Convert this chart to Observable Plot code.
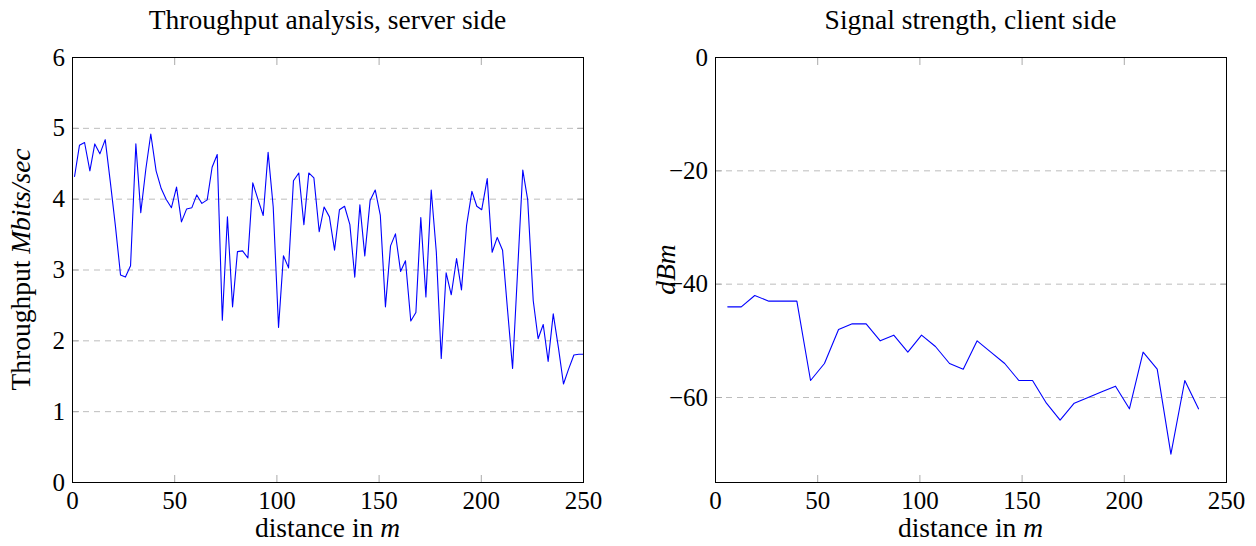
<!DOCTYPE html>
<html><head><meta charset="utf-8">
<script src="https://cdn.jsdelivr.net/npm/d3@7"></script>
<script src="https://cdn.jsdelivr.net/npm/@observablehq/plot@0.6"></script>
<style>
html,body{margin:0;padding:0;background:#fff;}
body{width:1256px;height:546px;overflow:hidden;position:relative;font-family:"Liberation Serif",serif;}
.panel{position:absolute;top:0;width:628px;height:546px;}
.title{height:41px;box-sizing:border-box;padding-top:4px;line-height:31px;font-size:27.5px;text-align:center;white-space:nowrap;color:#000;width:628px;position:relative;}
svg{display:block;}
</style></head><body>
<div id="left" class="panel" style="left:0"></div>
<div id="right" class="panel" style="left:628px"></div>
<script>
// Left chart: throughput vs distance
const throughputDistance = [1.0,3.4,5.9,8.5,10.9,13.4,16.0,18.6,21.0,23.5,
25.9,28.4,31.0,33.4,35.9,38.3,40.9,43.4,45.8,48.4,
50.9,53.3,55.8,58.4,60.8,63.3,65.9,68.3,70.8,73.3,
75.8,78.3,80.7,83.2,85.8,88.2,90.7,93.3,95.7,98.2,
100.8,103.2,105.7,108.1,110.7,113.2,115.6,118.1,120.7,123.1,
125.7,128.2,130.6,133.1,135.7,138.1,140.6,143.0,145.6,148.1,
150.6,153.1,155.6,158.0,160.5,162.9,165.5,168.0,170.4,172.9,
175.5,178.0,180.4,182.8,185.3,187.9,190.3,192.8,195.4,197.8,
200.2,202.9,205.3,207.8,210.4,212.8,215.3,217.7,220.3,222.7,
225.4,227.8,230.3,232.7,235.2,237.8,240.2,242.7,245.3,247.7,250.0];
const throughputMbps = [4.32,4.76,4.80,4.40,4.78,4.64,4.84,4.22,3.62,2.93,
2.90,3.06,4.78,3.81,4.43,4.92,4.40,4.15,4.00,3.88,
4.17,3.68,3.86,3.88,4.06,3.94,3.99,4.45,4.63,2.29,
3.75,2.48,3.26,3.27,3.17,4.23,4.00,3.77,4.66,3.89,
2.19,3.20,3.03,4.26,4.37,3.64,4.37,4.30,3.54,3.89,
3.75,3.28,3.85,3.90,3.64,2.90,3.92,3.20,3.98,4.13,
3.77,2.48,3.34,3.51,2.98,3.13,2.28,2.40,3.74,2.62,
4.13,3.25,1.75,2.96,2.65,3.16,2.72,3.63,4.11,3.90,
3.85,4.29,3.25,3.46,3.28,2.45,1.61,2.95,4.41,3.99,
2.57,2.03,2.23,1.71,2.38,1.89,1.39,1.60,1.80,1.81,1.81];
const throughputYTicks = [0,1,2,3,4,5,6];
const throughputGrid = [1,2,3,4,5];

// Right chart: signal strength vs distance
const signalDistance = [6.0,12.6,19.2,26.1,32.9,39.8,46.5,53.3,60.2,66.9,
73.7,80.6,87.2,94.1,100.8,107.6,114.5,121.2,128.0,134.7,
141.5,148.4,155.1,161.9,168.6,175.5,182.3,189.0,195.7,202.5,
209.2,216.1,222.8,229.6,236.3];
const signalDbm = [-44,-44,-42,-43,-43,-43,-57,-54,-48,-47,
-47,-50,-49,-52,-49,-51,-54,-55,-50,-52,
-54,-57,-57,-61,-64,-61,-60,-59,-58,-62,
-52,-55,-70,-57,-62];
const signalYTicks = [0,-20,-40,-60];
const signalGrid = [-20,-40,-60];

const distanceTicks = [0,50,100,150,200,250];

const FONT = "Liberation Serif";
const TICK_FS = 25;
const LABEL_FS = 27.5;

function panel(el, cfg) {
  const W = 628, H = 505, MT = 16, MB = 64;
  const title = document.createElement("div");
  title.className = "title";
  title.textContent = cfg.title;
  el.appendChild(title);
  const frameCenter = cfg.ml + (W - cfg.ml - cfg.mr) / 2;
  title.style.left = (frameCenter - W / 2) + "px";

  const data = cfg.xs.map((x, i) => ({x, y: cfg.ys[i]}));
  const fmt = d3.format("d");
  const plot = Plot.plot({
    width: W, height: H,
    marginLeft: cfg.ml, marginRight: cfg.mr, marginTop: MT, marginBottom: MB,
    style: {fontFamily: FONT, fontSize: TICK_FS + "px", background: "#fff", color: "#000"},
    x: {domain: [0, 250]},
    y: {domain: cfg.yDomain},
    marks: [
      Plot.ruleY(cfg.grid, {stroke: "#bdbdbd", strokeWidth: 1, strokeDasharray: "6,5"}),
      Plot.line(data, {x: "x", y: "y", stroke: "#0000ff", strokeWidth: 1.1}),
      Plot.axisX({anchor: "bottom", ticks: distanceTicks, tickSize: -7, tickPadding: 15.8, tickFormat: fmt, label: null, stroke: "#aaa", fill: "#000"}),
      Plot.axisX({anchor: "top", ticks: distanceTicks, tickSize: -7, tickFormat: () => "", label: null, stroke: "#aaa"}),
      Plot.axisY({anchor: "left", ticks: cfg.yTicks, tickSize: -7, tickPadding: 14.5, tickFormat: fmt, label: null, stroke: "#aaa", fill: "#000"}),
      Plot.axisY({anchor: "right", ticks: cfg.yTicks, tickSize: -7, tickFormat: () => "", label: null, stroke: "#aaa"}),
      Plot.frame({stroke: "#000", strokeWidth: 1})
    ]
  });
  el.appendChild(plot);
  const svg = d3.select(plot);
  const xl = svg.append("text")
    .attr("x", frameCenter)
    .attr("y", 496)
    .attr("text-anchor", "middle")
    .attr("font-family", FONT).attr("font-size", LABEL_FS).attr("fill", "#000");
  xl.append("tspan").text("distance in ");
  xl.append("tspan").attr("font-style", "italic").text("m");
  const cy = MT + (H - MT - MB) / 2;
  const yl = svg.append("text")
    .attr("transform", `translate(${cfg.yLabelX},${cy}) rotate(-90)`)
    .attr("text-anchor", "middle")
    .attr("font-family", FONT).attr("font-size", LABEL_FS).attr("fill", "#000");
  cfg.yLabel.forEach(([t, it]) => {
    const s = yl.append("tspan").text(t);
    if (it) s.attr("font-style", "italic");
  });
}

panel(document.getElementById("left"), {
  title: "Throughput analysis, server side",
  xs: throughputDistance, ys: throughputMbps,
  yDomain: [0, 6], yTicks: throughputYTicks, grid: throughputGrid,
  ml: 72, mr: 45, yLabelX: 30,
  yLabel: [["Throughput ", false], ["Mbits/sec", true]]
});
panel(document.getElementById("right"), {
  title: "Signal strength, client side",
  xs: signalDistance, ys: signalDbm,
  yDomain: [-75, 0], yTicks: signalYTicks, grid: signalGrid,
  ml: 87, mr: 30, yLabelX: 47,
  yLabel: [["dBm", true]]
});
</script>
</body></html>
